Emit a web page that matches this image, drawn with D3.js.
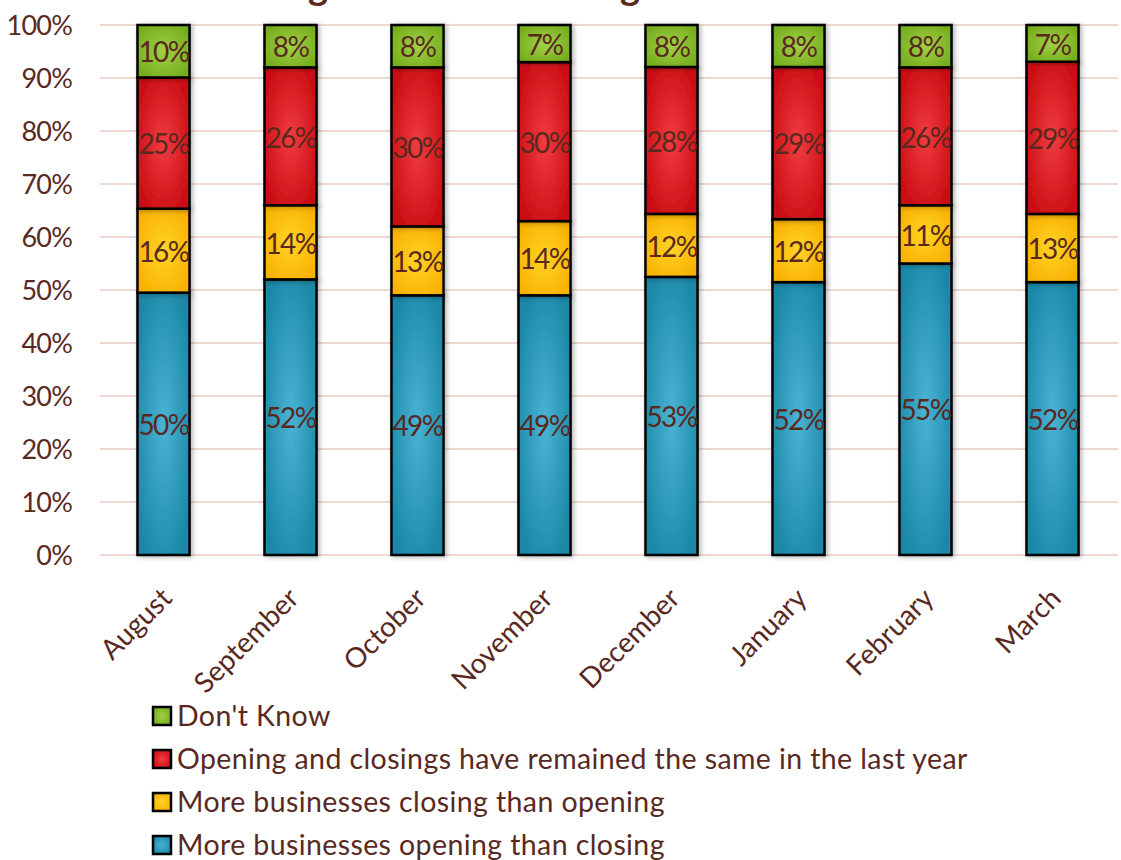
<!DOCTYPE html>
<html>
<head>
<meta charset="utf-8">
<script src="https://cdn.jsdelivr.net/npm/d3@7"></script>
<style>
  html, body { margin: 0; padding: 0; background: #fff; overflow: hidden; }
  svg { display: block; }
  text { font-family: "Lato", "Open Sans", sans-serif; fill: #59291f; }
</style>
</head>
<body>
<svg id="chart" width="1121" height="860"></svg>
<script>
// Months shown along the x axis
const months = ["August", "September", "October", "November", "December", "January", "February", "March"];

// Survey shares per month (percent), one array per answer
const openingMore = [50, 52, 49, 49, 53, 52, 55, 52];
const closingMore = [16, 14, 13, 14, 12, 12, 11, 13];
const remainedSame = [25, 26, 30, 30, 28, 29, 26, 29];
const dontKnow = [10, 8, 8, 7, 8, 8, 8, 7];

// Answer names, bottom of the stack first
const seriesNames = [
  "More businesses opening than closing",
  "More businesses closing than opening",
  "Opening and closings have remained the same in the last year",
  "Don't Know"
];
const seriesKeys = ["open", "close", "same", "dk"];

// Percent axis ticks
const yTicks = [0, 0.1, 0.2, 0.3, 0.4, 0.5, 0.6, 0.7, 0.8, 0.9, 1.0];

const titleText = "Change in Business Closings";

// ---- colours: [centre, edge] of each bar segment's glow
const palette = {
  open:  ["#4ab3d4", "#1a87a6"],
  close: ["#ffd426", "#f9b100"],
  same:  ["#f03c40", "#c90c13"],
  dk:    ["#a2d046", "#74ad1c"]
};

const rows = months.map((m, i) => ({
  month: m,
  open: openingMore[i],
  close: closingMore[i],
  same: remainedSame[i],
  dk: dontKnow[i]
}));

const svg = d3.select("#chart");
const margin = { left: 100, right: 1118, top: 25, bottom: 555 };

const x = d3.scaleBand().domain(months).range([margin.left, 1116]).paddingInner(0.59).paddingOuter(0.295);
const y = d3.scaleLinear().domain([0, 1]).range([margin.bottom, margin.top]);

// 100% stacked layout
const stacked = d3.stack().keys(seriesKeys).offset(d3.stackOffsetExpand)(rows);

// gradients and soft shadow
const defs = svg.append("defs");
seriesKeys.forEach(k => {
  const g = defs.append("radialGradient").attr("id", "grad-" + k)
    .attr("cx", "50%").attr("cy", "50%").attr("r", "60%");
  g.append("stop").attr("offset", "0%").attr("stop-color", palette[k][0]);
  g.append("stop").attr("offset", "100%").attr("stop-color", palette[k][1]);
});
const sh = defs.append("filter").attr("id", "shadow").attr("x", "-30%").attr("y", "-10%").attr("width", "160%").attr("height", "120%");
sh.append("feDropShadow").attr("dx", 2).attr("dy", 1).attr("stdDeviation", 2.5).attr("flood-color", "#000").attr("flood-opacity", 0.3);

// title (sits above the top edge of the canvas); spacing tuned so both
// "g" glyphs land over the chart's left and centre
const title = svg.append("text")
  .attr("y", 0)
  .style("font-size", "38px")
  .style("font-weight", "bold")
  .text(titleText);
{
  const node = title.node();
  const i1 = titleText.indexOf("g");
  const i2 = titleText.lastIndexOf("g");
  const span = node.getSubStringLength(0, i2) - node.getSubStringLength(0, i1);
  const ls = (312 - span) / (i2 - i1);
  title.style("letter-spacing", ls + "px");
  const xFirst = node.getSubStringLength(0, i1);
  title.attr("x", 308 - xFirst);
}

// gridlines
svg.append("g").selectAll("line").data(yTicks).join("line")
  .attr("x1", margin.left).attr("x2", margin.right)
  .attr("y1", d => y(d)).attr("y2", d => y(d))
  .attr("stroke", "#eed8d2").attr("stroke-width", 2);

// y axis labels
const yAxis = d3.axisLeft(y).tickValues(yTicks).tickFormat(d3.format(".0%")).tickSize(0).tickPadding(0);
const yg = svg.append("g").attr("transform", "translate(72,0)").call(yAxis);
yg.select(".domain").remove();
yg.selectAll("text").style("font-size", "27px").attr("fill", "#59291f").attr("dy", "0.36em")
  .style("letter-spacing", "-0.8px")
  .style("font-family", "Lato, 'Open Sans', sans-serif");

// bars
const layers = svg.append("g").selectAll("g").data(stacked).join("g");
layers.selectAll("rect").data(d => d.map(p => ({ p, key: d.key }))).join("rect")
  .attr("x", d => x(d.p.data.month))
  .attr("width", x.bandwidth())
  .attr("y", d => y(d.p[1]))
  .attr("height", d => y(d.p[0]) - y(d.p[1]))
  .attr("fill", d => `url(#grad-${d.key})`)
  .attr("stroke", "#000").attr("stroke-width", 2.5)
  .attr("filter", "url(#shadow)");

// value labels
layers.selectAll("text").data(d => d.map(p => ({ p, key: d.key }))).join("text")
  .attr("x", d => x(d.p.data.month) + x.bandwidth() / 2)
  .attr("y", d => (y(d.p[0]) + y(d.p[1])) / 2)
  .attr("dy", "0.4em")
  .attr("text-anchor", "middle")
  .style("font-size", "28px")
  .style("letter-spacing", "-1.6px")
  .text(d => d.p.data[d.key] + "%");

// x axis labels
const xAxis = d3.axisBottom(x).tickSize(0).tickPadding(0);
const xg = svg.append("g").attr("transform", `translate(0,${margin.bottom})`).call(xAxis);
xg.select(".domain").remove();
xg.selectAll("text")
  .style("font-size", "28px").attr("fill", "#59291f")
  .style("font-family", "Lato, 'Open Sans', sans-serif")
  .attr("text-anchor", "end")
  .attr("dy", null).attr("y", 0)
  .attr("transform", "translate(10,45) rotate(-45)");

// legend (top to bottom: last series first)
const legendItems = seriesKeys.map((k, i) => ({ key: k, name: seriesNames[i] })).reverse();
const leg = svg.append("g").selectAll("g").data(legendItems).join("g")
  .attr("transform", (d, i) => `translate(153,${716 + i * 43})`);
leg.append("rect").attr("x", 0).attr("y", -9).attr("width", 18).attr("height", 18)
  .attr("fill", d => `url(#grad-${d.key})`).attr("stroke", "#000").attr("stroke-width", 2.5);
leg.append("text").attr("x", 24).attr("dy", "0.36em").style("font-size", "28.5px")
  .style("letter-spacing", "0.4px").text(d => d.name);
</script>
</body>
</html>
